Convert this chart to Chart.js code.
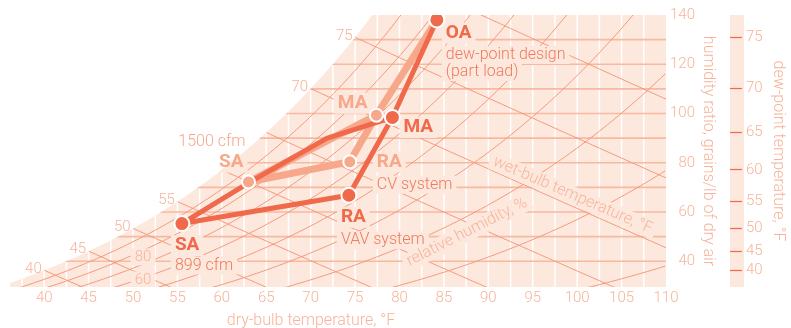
<!DOCTYPE html>
<html>
<head>
<meta charset="utf-8">
<title>Psychrometric chart – CV vs VAV</title>
<script src="https://cdn.jsdelivr.net/npm/chart.js@4.4.1/dist/chart.umd.min.js"></script>
<style>
  html, body { margin: 0; padding: 0; background: #fff; }
</style>
</head>
<body>
<canvas id="psychro" width="791" height="328"></canvas>
<script>
// axes
var dryBulbTicks = [40, 45, 50, 55, 60, 65, 70, 75, 80, 85, 90, 95, 100, 105, 110];
var dryBulbGrid = [37.5, 40, 42.5, 45, 47.5, 50, 52.5, 55, 57.5, 60, 62.5, 65, 67.5, 70, 72.5,
  75, 77.5, 80, 82.5, 85, 87.5, 90, 92.5, 95, 97.5, 100, 102.5, 105, 107.5];
var grainTicks = [40, 60, 80, 100, 120, 140];
var grainGrid = [40, 50, 60, 70, 80, 90, 100, 110, 120, 130];
var dewPointTicks = [40, 45, 50, 55, 60, 65, 70, 75];
var rhCurves = [10, 20, 30, 40, 50, 60, 70, 80, 90];
var wetBulbLines = [40, 45, 50, 55, 60, 65, 70, 75, 80];
var wetBulbLabels = [40, 45, 50, 55, 70, 75];

// state points: OA, MA, RA, SA  (dry-bulb °F, grains/lb)
var stateNames = ['OA', 'MA', 'RA', 'SA'];
var cvDryBulb = [84.2, 77.4, 74.4, 63.0];
var cvGrains = [138.0, 99.3, 80.4, 72.2];
var vavDryBulb = [84.2, 79.2, 74.3, 55.5];
var vavGrains = [138.0, 98.4, 66.8, 55.3];
// coil paths SA -> MA
var cvCoilDryBulb = [63.0, 71.8, 77.4];
var cvCoilGrains = [72.2, 88.8, 99.3];
var vavCoilDryBulb = [55.5, 63.0, 71.8, 79.2];
var vavCoilGrains = [55.3, 71.8, 89.9, 98.4];

var FONT = 'Roboto, "Liberation Sans", sans-serif';
var SHADE = '#fde8dd';
var AXIS_TEXT = '#f7b49b';
var CURVE = '#f5977a';
var HLINE = '#f8b9a1';
var DARK = '#f0694b';
var LIGHT = '#f7a88b';
var NOTE = '#f07a5d';
var FIGURE_SPACE = '\u2007';

// sea-level psychrometrics
var ATM = 101.325;
function satPressure(tF) {
  var c = (tF - 32) / 1.8;
  return 0.61094 * Math.exp(17.625 * c / (c + 243.04));
}
function grainsAt(tF, rh) {
  var pw = rh * satPressure(tF);
  return 7000 * 0.621945 * pw / (ATM - pw);
}
function wetBulbGrains(tF, wbF) {
  var t = (tF - 32) / 1.8, tw = (wbF - 32) / 1.8;
  var ws = grainsAt(wbF, 1) / 7000;
  return 7000 * ((2501 - 2.326 * tw) * ws - 1.006 * (t - tw)) / (2501 + 1.86 * t - 4.186 * tw);
}

function pts(xs, ys, idx) {
  return idx.map(function (i) { return { x: xs[i], y: ys[i] }; });
}

function polyline(ctx, x, y, from, to, fn) {
  ctx.beginPath();
  for (var t = from; t <= to + 1e-6; t += 0.25) {
    var px = x.getPixelForValue(t), py = y.getPixelForValue(fn(t));
    if (t === from) ctx.moveTo(px, py); else ctx.lineTo(px, py);
  }
  ctx.stroke();
}

function fontOf(o) {
  return (o.weight || '300') + ' ' + (o.size || 15) + 'px ' + FONT;
}

// clear the grid behind a label (only inside the shaded area, the caller clips)
function knockout(ctx, l) {
  ctx.save();
  ctx.font = fontOf(l);
  var w = ctx.measureText(l.text).width, h = (l.size || 15) + 2;
  var align = l.align || 'left';
  var left = align === 'left' ? 0 : align === 'right' ? -w : -w / 2;
  ctx.translate(l.x, l.y);
  if (l.angle) ctx.rotate(l.angle * Math.PI / 180);
  ctx.fillStyle = SHADE;
  ctx.fillRect(left - 4, -h / 2, w + 8, h);
  ctx.restore();
}

function drawLabel(ctx, l) {
  ctx.save();
  ctx.font = fontOf(l);
  ctx.textAlign = l.align || 'left';
  ctx.textBaseline = 'middle';
  ctx.translate(l.x, l.y);
  if (l.angle) ctx.rotate(l.angle * Math.PI / 180);
  ctx.fillStyle = l.color;
  ctx.fillText(l.text, 0, 0);
  ctx.restore();
}

function buildLabels(x, y) {
  var out = [];
  function add(text, px, py, o) { out.push(Object.assign({ text: text, x: px, y: py }, o)); }
  function at(xs, ys, i) { return [x.getPixelForValue(xs[i]), y.getPixelForValue(ys[i])]; }

  var oa = at(vavDryBulb, vavGrains, 0);
  var cvMa = at(cvDryBulb, cvGrains, 1), cvRa = at(cvDryBulb, cvGrains, 2), cvSa = at(cvDryBulb, cvGrains, 3);
  var vMa = at(vavDryBulb, vavGrains, 1), vRa = at(vavDryBulb, vavGrains, 2), vSa = at(vavDryBulb, vavGrains, 3);
  var boldDark = { weight: 'bold', size: 19, color: DARK };
  var boldLight = { weight: 'bold', size: 19, color: LIGHT };
  var note = { size: 16, color: NOTE };

  add('80', 143, 257, { align: 'center', color: AXIS_TEXT });
  add('60', 143, 280, { align: 'center', color: AXIS_TEXT });
  add('wet-bulb temperature, °F', x.getPixelForValue(99.5), y.getPixelForValue(66.8),
    { align: 'center', color: AXIS_TEXT, angle: 23.5, size: 16 });
  add('relative humidity, %', x.getPixelForValue(87.6), y.getPixelForValue(51.8),
    { align: 'center', color: AXIS_TEXT, angle: -27, size: 16 });

  add(stateNames[0], oa[0] + 9, oa[1] + 13, boldDark);
  add('dew-point design', oa[0] + 9, oa[1] + 35, note);
  add('(part load)', oa[0] + 9, oa[1] + 52, note);

  add(stateNames[1], cvMa[0] - 9, cvMa[1] - 12, Object.assign({ align: 'right' }, boldLight));
  add(stateNames[1], vMa[0] + 11, vMa[1] + 10, boldDark);

  add(stateNames[3], cvSa[0] - 5, cvSa[1] - 20, Object.assign({ align: 'right' }, boldLight));
  add('1500 cfm', cvSa[0] - 3, cvSa[1] - 40, { size: 16, color: LIGHT, align: 'right' });

  add(stateNames[2], cvRa[0] + 27, cvRa[1], boldLight);
  add('CV system', cvRa[0] + 27, cvRa[1] + 23, note);

  add(stateNames[2], vRa[0] - 8, vRa[1] + 22, boldDark);
  add('VAV system', vRa[0] - 8, vRa[1] + 45, note);

  add(stateNames[3], vSa[0] - 7, vSa[1] + 22, boldDark);
  add('899 cfm', vSa[0] - 7, vSa[1] + 42, note);
  return out;
}

var psychroGrid = {
  id: 'psychroGrid',
  beforeDraw: function (chart) {
    var ctx = chart.ctx, a = chart.chartArea, s = chart.scales.y2;
    ctx.save();
    ctx.fillStyle = SHADE;
    ctx.fillRect(s.left, a.top, 14, a.bottom - a.top);
    ctx.restore();
  },
  beforeDatasetsDraw: function (chart) {
    var ctx = chart.ctx, a = chart.chartArea, x = chart.scales.x, y = chart.scales.y;
    var labels = buildLabels(x, y);

    // area under the saturation curve
    ctx.save();
    ctx.beginPath();
    ctx.moveTo(a.left, a.bottom);
    for (var t = x.min; t <= x.max + 1e-6; t += 0.25) {
      ctx.lineTo(x.getPixelForValue(t), y.getPixelForValue(Math.min(grainsAt(t, 1), y.max)));
    }
    ctx.lineTo(a.right, a.top);
    ctx.lineTo(a.right, a.bottom);
    ctx.closePath();
    ctx.fillStyle = SHADE;
    ctx.fill();
    ctx.clip();

    ctx.strokeStyle = '#ffffff';
    ctx.lineWidth = 1.5;
    dryBulbGrid.forEach(function (v) {
      var px = x.getPixelForValue(v);
      ctx.beginPath(); ctx.moveTo(px, a.top); ctx.lineTo(px, a.bottom); ctx.stroke();
    });

    ctx.strokeStyle = HLINE;
    ctx.lineWidth = 1.6;
    grainGrid.forEach(function (v) {
      var py = y.getPixelForValue(v);
      ctx.beginPath(); ctx.moveTo(a.left, py); ctx.lineTo(a.right, py); ctx.stroke();
    });

    ctx.strokeStyle = CURVE;
    ctx.lineWidth = 1;
    rhCurves.forEach(function (rh) {
      polyline(ctx, x, y, x.min, x.max, function (t) { return grainsAt(t, rh / 100); });
    });
    wetBulbLines.forEach(function (wb) {
      polyline(ctx, x, y, wb, x.max, function (t) { return wetBulbGrains(t, wb); });
    });

    labels.forEach(function (l) { knockout(ctx, l); });
    ctx.restore();

    // wet-bulb numbers on the saturation curve
    wetBulbLabels.forEach(function (wb) {
      drawLabel(ctx, {
        text: String(wb), x: x.getPixelForValue(wb) - 2.5, y: y.getPixelForValue(grainsAt(wb, 1)) - 1.5,
        align: 'right', color: AXIS_TEXT
      });
    });
    labels.forEach(function (l) { drawLabel(ctx, l); });
  },
  afterDraw: function (chart) {
    drawLabel(chart.ctx, { text: 'dry-bulb temperature, °F', x: 311, y: 321, align: 'center', color: AXIS_TEXT, size: 16 });
  }
};

function lineSet(data, color, width, order) {
  return {
    data: data, borderColor: color, borderWidth: width, pointRadius: 0,
    borderCapStyle: 'round', borderJoinStyle: 'round', tension: 0, order: order
  };
}
function markerSet(data, color, radius, order) {
  return {
    data: data, showLine: false, pointRadius: radius, pointBackgroundColor: color,
    pointBorderColor: '#ffffff', pointBorderWidth: 2, order: order
  };
}

var tickFont = { family: FONT, size: 15, weight: '300' };
var titleFont = { family: FONT, size: 16, weight: '300' };

new Chart(document.getElementById('psychro'), {
  type: 'line',
  data: {
    datasets: [
      lineSet(pts(cvDryBulb, cvGrains, [2, 1, 0]), LIGHT, 7, 4),
      lineSet(pts(cvDryBulb, cvGrains, [2, 3]), LIGHT, 7, 4),
      lineSet(pts(cvCoilDryBulb, cvCoilGrains, [0, 1, 2]), LIGHT, 7, 4),
      lineSet(pts(vavDryBulb, vavGrains, [2, 1, 0]), DARK, 5, 3),
      lineSet(pts(vavDryBulb, vavGrains, [2, 3]), DARK, 5, 3),
      lineSet(pts(vavCoilDryBulb, vavCoilGrains, [0, 1, 2, 3]), DARK, 5, 3),
      markerSet(pts(cvDryBulb, cvGrains, [1, 2, 3]), LIGHT, 6.5, 2),
      markerSet(pts(vavDryBulb, vavGrains, [0, 1, 2, 3]), DARK, 7.5, 1)
    ]
  },
  options: {
    responsive: false,
    devicePixelRatio: 1,
    animation: false,
    events: [],
    layout: { padding: { left: 10, top: 15, right: 0, bottom: 0 } },
    plugins: { legend: { display: false }, tooltip: { enabled: false } },
    scales: {
      x: {
        type: 'linear', min: 36.15, max: 110,
        afterBuildTicks: function (s) { s.ticks = dryBulbTicks.map(function (v) { return { value: v }; }); },
        afterFit: function (s) { s.height = 41; },
        grid: { display: false, drawTicks: false },
        border: { display: false },
        ticks: { color: AXIS_TEXT, font: tickFont, padding: 2, maxRotation: 0, autoSkip: false }
      },
      y: {
        type: 'linear', position: 'right', min: 29.55, max: 140,
        afterBuildTicks: function (s) { s.ticks = grainTicks.map(function (v) { return { value: v }; }); },
        afterFit: function (s) { s.width = 64; },
        grid: { display: false, drawTicks: false },
        border: { display: false },
        ticks: {
          color: AXIS_TEXT, font: tickFont, padding: 4, autoSkip: false,
          // pad two-digit values so the numbers line up on the right
          callback: function (v) { return v < 100 ? FIGURE_SPACE + v : String(v); }
        },
        title: {
          display: true, text: 'humidity ratio, grains/lb of dry air', color: AXIS_TEXT,
          font: titleFont, padding: { top: 12, bottom: 0 }
        }
      },
      y2: {
        type: 'linear', position: 'right', min: 29.55, max: 140,
        afterBuildTicks: function (s) {
          s.ticks = dewPointTicks.map(function (dp) { return { value: grainsAt(dp, 1) }; });
        },
        afterFit: function (s) { s.width = 61; },
        grid: { display: true, drawOnChartArea: false, drawTicks: true, tickLength: 12, tickColor: DARK, tickWidth: 1.2 },
        border: { display: false },
        ticks: {
          color: AXIS_TEXT, font: tickFont, padding: 4, autoSkip: false,
          callback: function (v, i) { return dewPointTicks[i]; }
        },
        title: {
          display: true, text: 'dew-point temperature, °F', color: AXIS_TEXT,
          font: titleFont, padding: { top: 3, bottom: 0 }
        }
      }
    }
  },
  plugins: [psychroGrid]
});
</script>
</body>
</html>
